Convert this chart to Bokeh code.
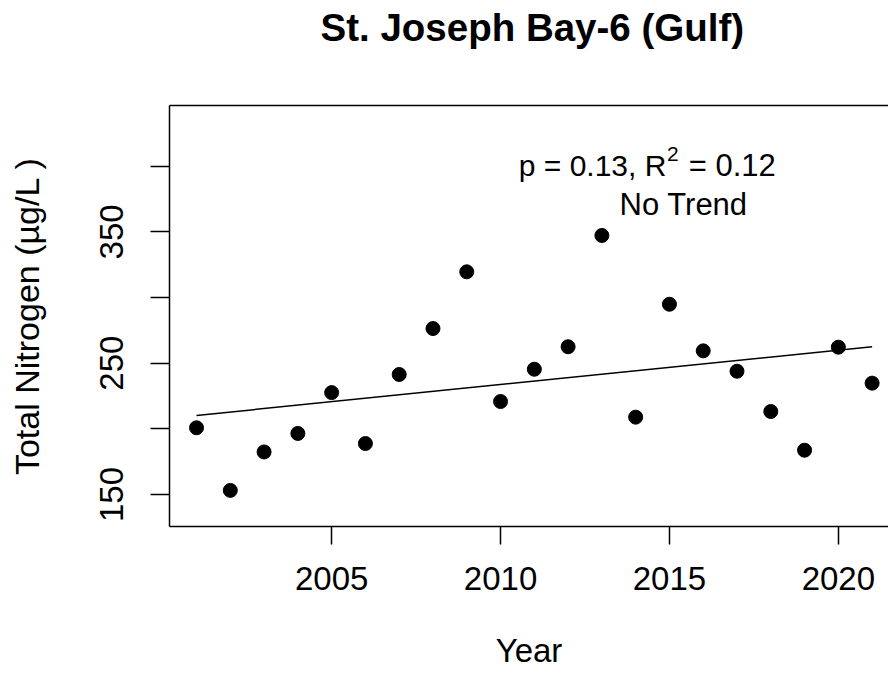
from bokeh.plotting import figure
from bokeh.models import FixedTicker, LinearAxis, Range1d, Label
from bokeh.embed import file_html
from bokeh.resources import INLINE

# ---- data ----
years = [2001, 2002, 2003, 2004, 2005, 2006, 2007, 2008, 2009, 2010, 2011,
         2012, 2013, 2014, 2015, 2016, 2017, 2018, 2019, 2020, 2021]
total_nitrogen = [200.8, 153.1, 182.4, 196.5, 227.6, 188.8, 241.4, 276.4, 319.6, 220.8, 245.4,
                  262.5, 347.3, 208.9, 294.9, 259.4, 243.9, 213.2, 183.7, 262.2, 234.8]
trend_years = [2001, 2021]
trend_values = [210.2, 262.5]
x_ticks = [2005, 2010, 2015, 2020]
y_ticks = [150, 200, 250, 300, 350, 400]
y_tick_labels = ["150", "", "250", "", "350", ""]
title_text = "St. Joseph Bay-6 (Gulf)"
x_label = "Year"
y_label = "Total Nitrogen (\u00b5g/L )"
stat_text_a = "p = 0.13, R"
stat_text_sup = "2"
stat_text_b = " = 0.12"
trend_text = "No Trend"

FONT = "Liberation Sans"
FS = "33px"

p = figure(width=888, height=671, output_backend="svg", toolbar_location=None,
           x_range=Range1d(2000.2, 2021.485), y_range=Range1d(125.6, 446.3),
           min_border_left=169, min_border_right=0, min_border_top=105, min_border_bottom=145,
           x_axis_location="below", y_axis_location="left")

p.background_fill_color = "white"
p.border_fill_color = "white"
p.outline_line_color = None
p.xgrid.grid_line_color = None
p.ygrid.grid_line_color = None

# title
p.title.text = title_text
p.title.align = "left"
p.title.offset = 151
p.title.standoff = 0
p.title.vertical_align = "bottom"
p.title.text_font = FONT
p.title.text_font_size = "38.5px"
p.title.text_font_style = "bold"
p.title.text_color = "black"

# x axis
xa = p.xaxis[0]
xa.ticker = FixedTicker(ticks=x_ticks)
xa.axis_label = x_label
xa.axis_label_text_font = FONT
xa.axis_label_text_font_size = FS
xa.axis_label_text_font_style = "normal"
xa.axis_label_text_color = "black"
xa.axis_label_standoff = 39
xa.major_label_text_font = FONT
xa.major_label_text_font_size = FS
xa.major_label_text_color = "black"
xa.major_label_standoff = 22
xa.major_tick_out = 18
xa.major_tick_in = 0
xa.minor_tick_line_color = None
xa.axis_line_width = 1.5
xa.major_tick_line_width = 1.5

# y axis
ya = p.yaxis[0]
ya.ticker = FixedTicker(ticks=y_ticks)
ya.major_label_overrides = {t: l for t, l in zip(y_ticks, y_tick_labels)}
ya.major_label_orientation = "vertical"
ya.major_label_text_font = FONT
ya.major_label_text_font_size = FS
ya.major_label_text_color = "black"
ya.major_label_standoff = 27
ya.major_tick_out = 19
ya.major_tick_in = 0
ya.minor_tick_line_color = None
ya.axis_line_width = 1.5
ya.major_tick_line_width = 1.5
ya.axis_label = y_label
ya.axis_label_text_font = FONT
ya.axis_label_text_font_size = "34px"
ya.axis_label_text_font_style = "normal"
ya.axis_label_text_color = "black"
ya.axis_label_standoff = 52

# top frame line; one invisible, unlabeled tick gives the panel height that lifts the title
top = LinearAxis(ticker=FixedTicker(ticks=[2010]), major_label_overrides={2010: ""},
                 major_tick_out=57, major_tick_in=0, major_tick_line_color=None,
                 minor_tick_out=0, minor_tick_in=0, minor_tick_line_color=None,
                 major_label_standoff=0, axis_label_standoff=0,
                 major_label_text_font_size="1px", axis_line_width=1.5)
p.add_layout(top, "above")

# points and trend
p.scatter(years, total_nitrogen, size=14, color="black", marker="circle")
p.line(trend_years, trend_values, line_color="black", line_width=1.5)

# annotation texts
p.add_layout(Label(x=2010.54, y=400.6, text=stat_text_a, text_font=FONT, text_font_size="30px",
                   text_align="left", text_baseline="middle", text_color="black"))
p.add_layout(Label(x=2014.93, y=409.0, text=stat_text_sup, text_font=FONT, text_font_size="21px",
                   text_align="left", text_baseline="middle", text_color="black"))
p.add_layout(Label(x=2015.57, y=400.6, text=stat_text_b, text_font=FONT, text_font_size="31px",
                   text_align="left", text_baseline="middle", text_color="black"))
p.add_layout(Label(x=2015.42, y=370.9, text=trend_text, text_font=FONT, text_font_size="31px",
                   text_align="center", text_baseline="middle", text_color="black"))

open("out.html", "w").write(file_html(p, INLINE))
